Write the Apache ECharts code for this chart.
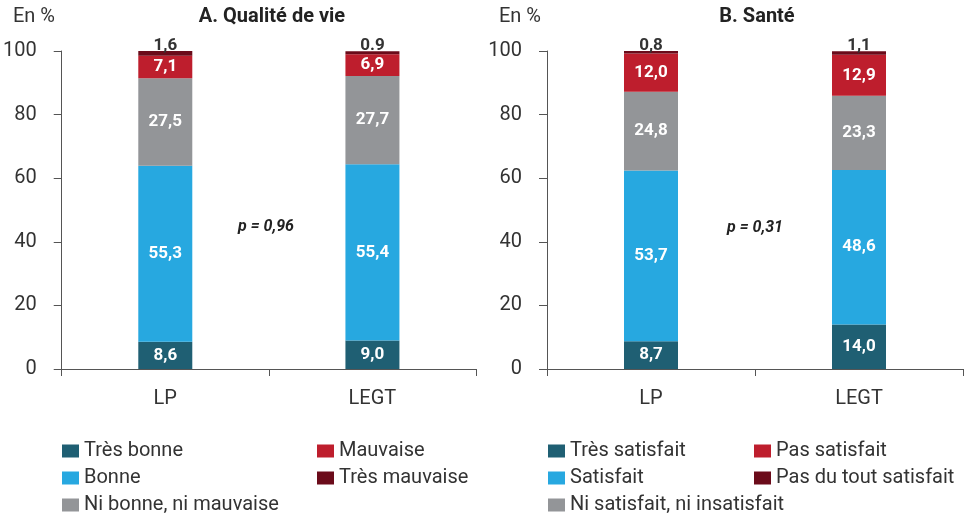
<!DOCTYPE html>
<html>
<head>
<meta charset="utf-8">
<script src="https://cdn.jsdelivr.net/npm/echarts@6/dist/echarts.min.js"></script>
<style>
  html, body { margin: 0; padding: 0; background: #fff; }
  #chart { width: 973px; height: 514px; }
</style>
</head>
<body>
<div id="chart"></div>
<script>
// catégories
const categories = ['LP', 'LEGT'];
const yTicks = [0, 20, 40, 60, 80, 100];

// A. Qualité de vie
const namesA = ['Très bonne', 'Bonne', 'Ni bonne, ni mauvaise', 'Mauvaise', 'Très mauvaise'];
const tresBonne = [8.6, 9.0];
const bonne = [55.3, 55.4];
const niBonne = [27.5, 27.7];
const mauvaise = [7.1, 6.9];
const tresMauvaise = [1.6, 0.9];
const topLabelsA = ['1,6', '0.9'];
const pValueA = 'p = 0,96';

// B. Santé
const namesB = ['Très satisfait', 'Satisfait', 'Ni satisfait, ni insatisfait', 'Pas satisfait', 'Pas du tout satisfait'];
const tresSatisfait = [8.7, 14.0];
const satisfait = [53.7, 48.6];
const niSatisfait = [24.8, 23.3];
const pasSatisfait = [12.0, 12.9];
const pasDuTout = [0.8, 1.1];
const topLabelsB = ['0,8', '1,1'];
const pValueB = 'p = 0,31';

const colors = ['#1f5f73', '#27a8e0', '#939598', '#be1e2d', '#6b0b1a'];
const FONT = 'Roboto, "Noto Sans", sans-serif';

const chart = echarts.init(document.getElementById('chart'));

function fmt(v) {
  return v.toFixed(1).replace('.', ',');
}

// construit les 5 séries empilées d'un panneau
function makeSeries(names, values, topLabels, idx) {
  return names.map((name, i) => {
    const isTop = i === names.length - 1;
    return {
      name: name,
      type: 'bar',
      stack: 'p' + idx,
      xAxisIndex: idx,
      yAxisIndex: idx,
      barWidth: 54,
      itemStyle: { color: colors[i] },
      label: isTop ? {
        show: true,
        position: 'top',
        distance: -3,
        color: '#333',
        fontFamily: FONT,
        fontWeight: 'bold',
        fontSize: 17,
        formatter: p => topLabels[p.dataIndex]
      } : {
        show: true,
        position: 'inside',
        color: '#fff',
        fontFamily: FONT,
        fontWeight: 'bold',
        fontSize: 17,
        formatter: p => fmt(p.value)
      },
      emphasis: { disabled: true },
      data: values[i]
    };
  });
}

function xAxis(idx) {
  return {
    type: 'category',
    gridIndex: idx,
    data: categories,
    axisLine: { lineStyle: { color: '#555', width: 1 } },
    axisTick: { show: true, length: 7, lineStyle: { color: '#555' } },
    axisLabel: { color: '#333', fontSize: 20, fontFamily: FONT, margin: 20 }
  };
}

function yAxis(idx) {
  return {
    type: 'value',
    gridIndex: idx,
    min: yTicks[0],
    max: yTicks[yTicks.length - 1],
    interval: 20,
    splitLine: { show: false },
    axisLine: { show: true, lineStyle: { color: '#555', width: 1 } },
    axisTick: { show: true, length: 8, lineStyle: { color: '#555' } },
    axisLabel: { color: '#333', fontSize: 20, fontFamily: FONT, margin: 25 }
  };
}

function legend(data, left) {
  return {
    data: data,
    orient: 'vertical',
    left: left,
    top: 435,
    height: 120,
    icon: 'rect',
    itemWidth: 17,
    itemHeight: 13,
    itemGap: 5,
    selectedMode: false,
    textStyle: { color: '#333', fontSize: 20, fontFamily: FONT, lineHeight: 22, padding: [0, 0, 0, 0] }
  };
}

function text(str, x, y, style) {
  return {
    type: 'text',
    x: x,
    y: y,
    style: Object.assign({ text: str, fill: '#333', font: '20px ' + FONT, textAlign: 'left', textVerticalAlign: 'middle' }, style || {})
  };
}

const option = {
  animation: false,
  grid: [
    { left: 61, right: 497, top: 51, bottom: 145 },
    { left: 547, right: 10, top: 51, bottom: 145 }
  ],
  xAxis: [xAxis(0), xAxis(1)],
  yAxis: [yAxis(0), yAxis(1)],
  legend: [
    legend(namesA.slice(0, 3), 57),
    legend(namesA.slice(3), 312),
    legend(namesB.slice(0, 3), 543),
    legend(namesB.slice(3), 749)
  ],
  graphic: [
    text('En %', 13, 17),
    text('A. Qualité de vie', 272, 17, { font: 'bold 20px ' + FONT, textAlign: 'center', fill: '#222' }),
    text('En %', 499, 17),
    text('B. Santé', 757, 17, { font: 'bold 20px ' + FONT, textAlign: 'center', fill: '#222' }),
    text(pValueA, 266, 227, { font: 'italic bold 16px ' + FONT, textAlign: 'center', fill: '#222' }),
    text(pValueB, 755, 228, { font: 'italic bold 16px ' + FONT, textAlign: 'center', fill: '#222' })
  ],
  series: [].concat(
    makeSeries(namesA, [tresBonne, bonne, niBonne, mauvaise, tresMauvaise], topLabelsA, 0),
    makeSeries(namesB, [tresSatisfait, satisfait, niSatisfait, pasSatisfait, pasDuTout], topLabelsB, 1)
  )
};

chart.setOption(option);
</script>
</body>
</html>
